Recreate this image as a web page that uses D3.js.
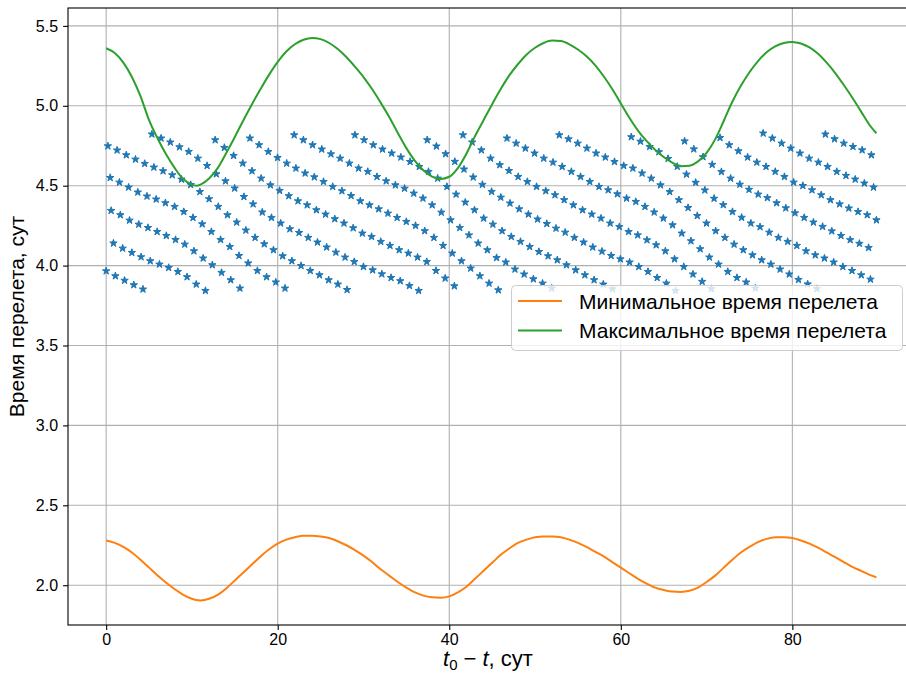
<!DOCTYPE html>
<html>
<head>
<meta charset="utf-8">
<script src="https://cdn.jsdelivr.net/npm/d3@7"></script>
<style>
  body { margin: 0; background: #fff; }
  svg text { font-family: "Liberation Sans", Arial, sans-serif; fill: #000; }
</style>
</head>
<body>
<div id="chart"></div>
<script>
// --- data ---
const xTicks = [0, 20, 40, 60, 80];
const yTicks = [2.0, 2.5, 3.0, 3.5, 4.0, 4.5, 5.0, 5.5];

// days for the two envelope curves
const curveDays = [0,1,2,3,4,5,6,7,8,9,10,10.5,11,12,13,14,15,16,17,18,19,20,21,22,23,24,25,26,27,28,29,
  30,31,32,33,34,35,36,37,38,39,40,41,42,43,44,45,46,47,48,49,50,51,52,53,54,55,56,57,58,59,
  60,61,62,63,64,65,66,67,68,69,70,71,72,73,74,75,76,77,78,79,80,81,82,83,84,85,86,87,88,89,89.8];

// orange: minimal flight time
const minTime = [2.28,2.265,2.24,2.205,2.16,2.11,2.06,2.015,1.975,1.94,1.915,1.908,1.905,1.915,1.94,1.98,2.03,2.08,2.13,2.18,2.225,
  2.26,2.285,2.30,2.31,2.31,2.305,2.295,2.275,2.25,2.22,
  2.185,2.145,2.10,2.06,2.02,1.985,1.955,1.935,1.925,1.922,1.93,1.955,1.99,2.04,2.09,2.14,2.19,2.23,2.265,2.285,
  2.30,2.305,2.305,2.30,2.285,2.265,2.24,2.21,2.18,2.145,
  2.11,2.075,2.04,2.01,1.985,1.97,1.96,1.958,1.965,1.985,2.02,2.06,2.11,2.16,2.205,2.24,2.27,2.29,2.30,2.30,
  2.295,2.28,2.26,2.235,2.205,2.175,2.145,2.115,2.09,2.065,2.05];

// green: maximal flight time
const maxTime = [5.36,5.33,5.27,5.18,5.06,4.91,4.795,4.695,4.61,4.54,4.507,4.50,4.507,4.545,4.61,4.705,4.805,4.91,5.01,5.105,5.195,
  5.275,5.34,5.385,5.413,5.425,5.417,5.393,5.355,5.305,5.245,
  5.18,5.105,5.02,4.93,4.83,4.735,4.655,4.595,4.557,4.542,4.556,4.61,4.70,4.81,4.91,5.01,5.105,5.19,5.26,5.32,
  5.363,5.393,5.408,5.405,5.385,5.352,5.31,5.255,5.185,5.105,
  5.015,4.925,4.845,4.78,4.725,4.68,4.645,4.622,4.625,4.652,4.705,4.79,4.905,5.025,5.125,5.21,5.28,5.335,5.372,5.393,
  5.40,5.39,5.365,5.325,5.27,5.205,5.13,5.05,4.965,4.88,4.828];

// star streaks: first day of each streak, then one star every starStep days
const starStep = 1.0725;
const streakStart = [0.0, 0.85, 0.58, 0.47, 0.2, 5.33, 12.71, 16.76, 21.92, 29.0, 37.43, 41.6, 46.73, 52.83, 61.22, 67.44, 71.57, 76.6, 83.85];
const streakTimes = [
  [3.966,3.935,3.907,3.879,3.852],
  [4.140,4.108,4.081,4.054,4.029,4.008,3.987,3.962,3.929,3.883,3.843],
  [4.344,4.317,4.283,4.258,4.237,4.212,4.187,4.162,4.133,4.091,4.046,4.004,3.956,3.910,3.858],
  [4.550,4.521,4.490,4.459,4.434,4.415,4.392,4.369,4.337,4.300,4.260,4.212,4.162,4.118,4.062,4.015,3.968,3.929,3.896,3.858],
  [4.748,4.722,4.692,4.665,4.638,4.615,4.592,4.567,4.540,4.506,4.462,4.417,4.369,4.317,4.271,4.221,4.175,4.135,4.098,4.060,4.029,3.999,3.968,3.941,3.910,3.883,3.849],
  [4.822,4.797,4.772,4.742,4.713,4.671,4.625,4.573,4.529,4.484,4.431,4.385,4.334,4.300,4.265,4.229,4.206,4.175,4.146,4.115,4.083,4.052,4.024,3.993,3.972,3.947,3.924,3.904,3.874,3.843],
  [4.786,4.738,4.688,4.640,4.592,4.546,4.504,4.469,4.436,4.404,4.379,4.348,4.321,4.292,4.265,4.235,4.202,4.181,4.150,4.125,4.098,4.077,4.052,4.024,3.968,3.921,3.872],
  [4.797,4.755,4.713,4.675,4.640,4.609,4.578,4.554,4.525,4.494,4.467,4.437,4.404,4.379,4.354,4.327,4.300,4.275,4.250,4.217,4.175,4.125,4.077,4.029,3.983,3.935,3.889,3.847],
  [4.817,4.786,4.755,4.728,4.698,4.671,4.640,4.609,4.588,4.556,4.529,4.504,4.483,4.452,4.421,4.379,4.333,4.285,4.237,4.191,4.140,4.098,4.049,4.021,3.977,3.946,3.916,3.889,3.858],
  [4.817,4.786,4.755,4.728,4.703,4.678,4.650,4.619,4.588,4.546,4.494,4.446,4.396,4.348,4.296,4.258,4.217,4.181,4.150,4.118,4.087,4.060,4.035,4.004,3.972,3.941,3.910,3.883,3.854],
  [4.786,4.747,4.699,4.651,4.603,4.553,4.507,4.463,4.427,4.390,4.354,4.321,4.290,4.262,4.233,4.208,4.175,4.146,4.115,4.089,4.062,4.041,4.021,3.993,3.962,3.924,3.889,3.843],
  [4.817,4.772,4.723,4.671,4.630,4.594,4.556,4.525,4.494,4.467,4.442,4.411,4.379,4.348,4.321,4.296,4.265,4.243,4.212,4.191,4.160,4.129,4.091,4.041,3.993,3.946,3.900,3.855],
  [4.797,4.765,4.734,4.703,4.671,4.646,4.619,4.588,4.556,4.525,4.494,4.473,4.448,4.421,4.400,4.369,4.334,4.296,4.254,4.202,4.154,4.104,4.052,4.008,3.962,3.924,3.896,3.858],
  [4.817,4.792,4.765,4.734,4.703,4.678,4.650,4.625,4.609,4.578,4.546,4.504,4.462,4.411,4.362,4.312,4.265,4.217,4.175,4.133,4.098,4.066,4.035,4.008,3.977,3.946,3.912,3.884,3.855],
  [4.805,4.777,4.744,4.711,4.669,4.620,4.571,4.520,4.472,4.420,4.380,4.337,4.301,4.265,4.242,4.208,4.175,4.150,4.125,4.091,4.066,4.046,4.021,3.993,3.968,3.941,3.914],
  [4.779,4.729,4.680,4.632,4.587,4.546,4.508,4.476,4.446,4.424,4.392,4.360,4.329,4.300,4.271,4.244,4.216,4.187,4.161,4.138,4.112],
  [4.800,4.755,4.717,4.678,4.646,4.619,4.588,4.556,4.521,4.500,4.473,4.442,4.411,4.385,4.359,4.337,4.317,4.285],
  [4.828,4.797,4.765,4.734,4.703,4.671,4.646,4.619,4.588,4.563,4.540,4.515,4.490],
  [4.822,4.792,4.765,4.744,4.723,4.692]
];

const legendLabels = ["Минимальное время перелета", "Максимальное время перелета"];
const lineColors = ["#ff7f0e", "#2ca02c"];

// --- layout ---
const W = 906, H = 675;
const box = {left: 68, top: 8, right: 915, bottom: 625};

const x = d3.scaleLinear().domain([-4.45, 94.3]).range([box.left, box.right]);
const y = d3.scaleLinear().domain([1.751, 5.612]).range([box.bottom, box.top]);

const svg = d3.select("#chart").append("svg")
  .attr("width", W).attr("height", H);

// grid
svg.append("g").selectAll("line").data(xTicks).join("line")
  .attr("x1", d => x(d)).attr("x2", d => x(d))
  .attr("y1", box.top).attr("y2", box.bottom)
  .attr("stroke", "#b0b0b0").attr("stroke-width", 1.1);
svg.append("g").selectAll("line").data(yTicks).join("line")
  .attr("x1", box.left).attr("x2", box.right)
  .attr("y1", d => y(d)).attr("y2", d => y(d))
  .attr("stroke", "#b0b0b0").attr("stroke-width", 1.1);

// stars
let stars = [];
streakTimes.forEach((ys, s) => {
  ys.forEach((v, i) => stars.push([streakStart[s] + i * starStep, v]));
});
const star = d3.symbol().type(d3.symbolStar).size(17);
svg.append("g").selectAll("path").data(stars).join("path")
  .attr("transform", d => `translate(${x(d[0])},${y(d[1])})`)
  .attr("d", star)
  .attr("fill", "#1f77b4")
  .attr("stroke", "#1f77b4").attr("stroke-width", 1).attr("stroke-linejoin", "round");

// envelope lines
const line = d3.line().curve(d3.curveMonotoneX)
  .x((d, i) => x(curveDays[i])).y(d => y(d));
svg.append("path").datum(minTime).attr("d", line)
  .attr("fill", "none").attr("stroke", lineColors[0]).attr("stroke-width", 2);
svg.append("path").datum(maxTime).attr("d", line)
  .attr("fill", "none").attr("stroke", lineColors[1]).attr("stroke-width", 2);

// spines
svg.append("rect")
  .attr("x", box.left).attr("y", box.top)
  .attr("width", box.right - box.left).attr("height", box.bottom - box.top)
  .attr("fill", "none").attr("stroke", "#000").attr("stroke-width", 1.1);

// axes
const gx = svg.append("g").attr("transform", `translate(0,${box.bottom})`)
  .call(d3.axisBottom(x).tickValues(xTicks).tickSize(4.9).tickPadding(3.5).tickFormat(d3.format("d")));
const gy = svg.append("g").attr("transform", `translate(${box.left},0)`)
  .call(d3.axisLeft(y).tickValues(yTicks).tickSize(4.9).tickPadding(5).tickFormat(d3.format(".1f")));
[gx, gy].forEach(g => {
  g.select(".domain").remove();
  g.attr("font-family", null).attr("font-size", null);
  g.selectAll("line").attr("stroke", "#000").attr("stroke-width", 1.1);
  g.selectAll("text").attr("font-size", 16).attr("fill", "#000");
});

// axis labels
svg.append("text")
  .attr("transform", `translate(24,${(box.top + box.bottom) / 2}) rotate(-90)`)
  .attr("text-anchor", "middle")
  .attr("font-size", 21)
  .text("Время перелета, сут");

const xl = svg.append("text")
  .attr("x", 488).attr("y", 666)
  .attr("text-anchor", "middle")
  .attr("font-size", 22);
xl.append("tspan").attr("font-style", "italic").text("t");
xl.append("tspan").attr("font-size", 15).attr("dy", 3.5).text("0");
xl.append("tspan").attr("dy", -3.5).attr("dx", 6).text("−");
xl.append("tspan").attr("font-style", "italic").attr("dx", 6).text("t");
xl.append("tspan").text(", сут");

// legend
const lg = svg.append("g");
lg.append("rect")
  .attr("x", 511.5).attr("y", 285.5).attr("width", 391).attr("height", 65)
  .attr("rx", 4)
  .attr("fill", "#fff").attr("fill-opacity", 0.8)
  .attr("stroke", "#cccccc").attr("stroke-width", 1);
legendLabels.forEach((t, i) => {
  const cy = 301 + i * 29.5;
  lg.append("line")
    .attr("x1", 518).attr("x2", 562).attr("y1", cy).attr("y2", cy)
    .attr("stroke", lineColors[i]).attr("stroke-width", 2);
  lg.append("text")
    .attr("x", 579).attr("y", cy + 7.5)
    .attr("font-size", 21)
    .text(t);
});
</script>
</body>
</html>
